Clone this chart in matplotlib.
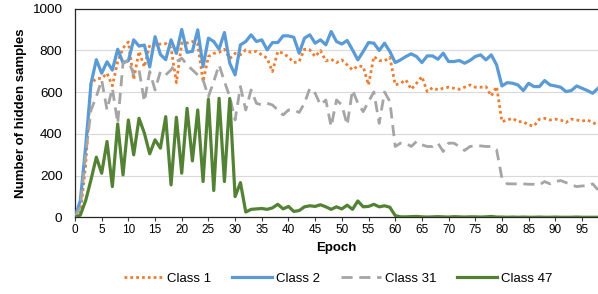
import matplotlib
matplotlib.use("Agg")
import matplotlib.pyplot as plt
import numpy as np

plt.rcParams['font.family'] = ['Liberation Sans', 'DejaVu Sans']

# epochs 0..98
epochs = np.arange(99)

class1 = [0, 20, 250, 640, 665, 665, 690, 630, 745, 810,
          840, 660, 795, 720, 825, 825, 830, 832, 810, 645,
          835, 835, 842, 830, 650, 770, 785, 790, 805, 760,
          785, 778, 802, 790, 795, 778, 762, 698, 794,
          786, 767, 741, 746, 805, 802, 770, 799, 749, 757,
          741, 754, 730, 706, 725, 722, 634, 770, 751, 749, 767,
          634, 642, 658, 613, 642, 674, 602, 621, 610, 618,
          623, 618, 613, 623, 634, 623, 623, 626, 581, 626,
          458, 466, 474, 458, 458, 442, 437, 470, 474, 466,
          470, 466, 454, 470, 466, 461, 466, 454, 442]

class2 = [0, 80, 340, 640, 755, 690, 745, 705, 805, 740,
          750, 850, 820, 825, 720, 865, 780, 755, 850, 785,
          900, 790, 795, 898, 722, 858, 842, 805, 885, 738,
          682, 826, 842, 874, 842, 850, 802, 837, 837, 869,
          869, 862, 786, 858, 874, 834, 850, 826, 890, 842,
          830, 847, 802, 754, 794, 837, 834, 799, 834, 794,
          741, 754, 770, 783, 770, 741, 773, 773, 757, 786,
          746, 746, 751, 738, 751, 770, 778, 754, 778, 730,
          629, 645, 642, 634, 607, 642, 626, 626, 655, 634,
          629, 623, 602, 607, 629, 618, 607, 594, 618]

class31 = [0, 50, 300, 514, 578, 658, 514, 618, 450, 738,
           754, 682, 706, 554, 698, 610, 698, 682, 706, 746,
           762, 730, 706, 682, 658, 578, 650, 730, 650, 578,
           466, 626, 514, 610, 546, 538, 546, 538, 514, 490,
           514, 514, 502, 546, 618, 594, 538, 562, 434, 562,
           538, 442, 610, 546, 506, 554, 600, 450, 600, 555,
           339, 355, 355, 339, 363, 347, 339, 339, 355, 315,
           355, 355, 339, 320, 339, 342, 342, 339, 339, 323,
           187, 160, 160, 160, 160, 158, 158, 155, 171, 160,
           171, 176, 166, 155, 147, 150, 150, 160, 131]

class47 = [0, 10, 80, 180, 288, 211, 363, 147, 447, 203,
           466, 299, 474, 403, 304, 371, 331, 482, 155, 479,
           211, 522, 270, 514, 171, 565, 128, 570, 171, 569,
           99, 166, 25, 38, 40, 42, 38, 45, 62, 40,
           52, 28, 32, 50, 55, 52, 60, 50, 38, 50,
           40, 58, 38, 78, 50, 52, 62, 50, 55, 48,
           8, 2, 2, 3, 4, 2, 1, 2, 3, 2,
           1, 3, 2, 1, 2, 2, 1, 2, 4, 1,
           1, 0, 1, 0, 1, 0, 0, 1, 0, 0,
           1, 0, 0, 0, 1, 0, 0, 0, 0]

fig = plt.figure(figsize=(5.98, 2.94), dpi=100)
ax = fig.add_axes([0.1254, 0.261, 0.8746, 0.710])

ax.plot(epochs, class1, color='#ED7D31', lw=2.0, linestyle=(0, (1, 1.1)), label='Class 1', zorder=3)
ax.plot(epochs, class2, color='#5B9BD5', lw=2.3, label='Class 2', zorder=4)
ax.plot(epochs, class31, color='#A5A5A5', lw=2.0, linestyle=(0, (4, 2.4)), label='Class 31', zorder=5)
ax.plot(epochs, class47, color='#548235', lw=2.3, label='Class 47', zorder=6)

ax.set_xlim(0, 98)
ax.set_ylim(0, 1000)
ax.set_xticks(np.arange(0, 96, 5))
ax.set_yticks(np.arange(0, 1001, 200))
ax.tick_params(axis='x', direction='out', length=3, width=0.8, labelsize=8.5, pad=2, color='#404040')
ax.tick_params(axis='y', length=0, labelsize=9.7, pad=9)
ax.grid(axis='y', color='#D9D9D9', lw=0.8, zorder=0)
ax.set_axisbelow(True)
ax.spines['right'].set_visible(False)
for s in ['left', 'bottom', 'top']:
    ax.spines[s].set_color('#262626')
    ax.spines[s].set_linewidth(0.9)

ax.set_xlabel('Epoch', fontsize=9.5, fontweight='bold', labelpad=4)
ax.set_ylabel('Number of hidden samples', fontsize=9.5, fontweight='bold', labelpad=4)

fig.legend(loc='lower center', bbox_to_anchor=(0.565, -0.01), ncol=4, frameon=False,
           fontsize=9.5, handlelength=3.0, handletextpad=0.3, columnspacing=1.6)

fig.savefig('out.png', dpi=100)
